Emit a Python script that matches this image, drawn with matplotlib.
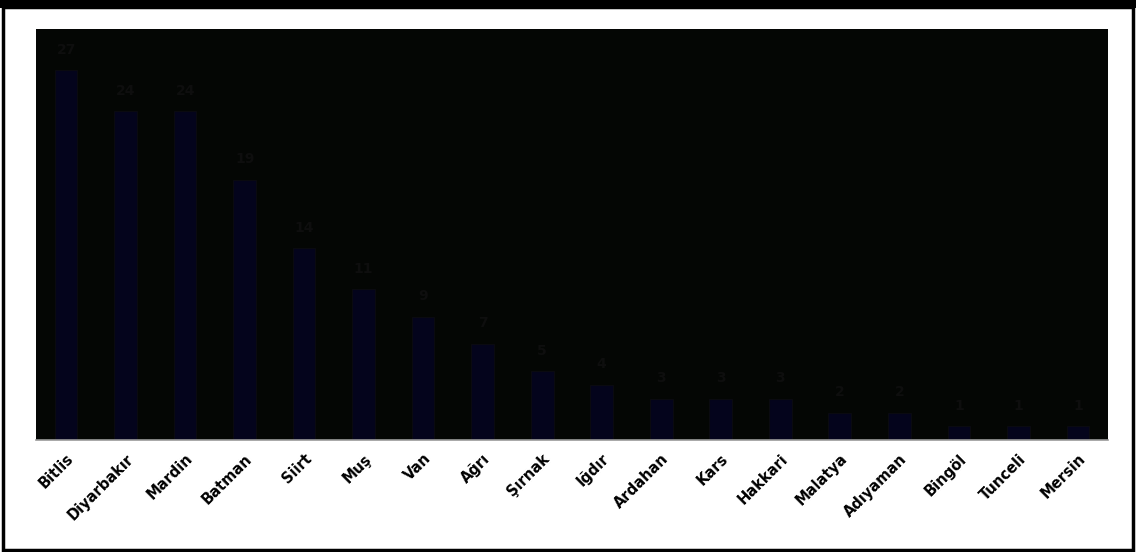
import matplotlib.pyplot as plt
from matplotlib.patches import Rectangle
import numpy as np

provinces = ['Bitlis', 'Diyarbakır', 'Mardin', 'Batman', 'Siirt', 'Muş', 'Van', 'Ağrı',
             'Şırnak', 'Iğdır', 'Ardahan', 'Kars', 'Hakkari', 'Malatya', 'Adıyaman',
             'Bingöl', 'Tunceli', 'Mersin']
counts = [27, 24, 24, 19, 14, 11, 9, 7, 5, 4, 3, 3, 3, 2, 2, 1, 1, 1]

fig = plt.figure(figsize=(11.36, 5.52), dpi=100)
ax = fig.add_axes([0.032, 0.203, 0.943, 0.744])
ax.set_facecolor('#040604')

x = np.arange(len(provinces))
bars = ax.bar(x, counts, width=0.38, color='#04041c', edgecolor='#0a0a10', linewidth=0.8)
for xi, c in zip(x, counts):
    ax.text(xi, c + 1.0, str(c), ha='center', va='bottom', fontsize=10,
            fontweight='bold', color='#0e0e0e')

ax.set_xlim(-0.5, len(provinces) - 0.5)
ax.set_ylim(0, 30)
ax.set_yticks([])
ax.set_xticks(x)
ax.set_xticklabels(provinces, rotation=45, ha='right', rotation_mode='anchor',
                   fontsize=10.5, fontweight='bold', color='black')
ax.tick_params(axis='x', length=0, pad=8)
for s in ['top', 'left', 'right']:
    ax.spines[s].set_visible(False)
ax.spines['bottom'].set_color('#9a9a9a')
ax.spines['bottom'].set_linewidth(1.2)

# outer frame
fig.patches.append(Rectangle((0.003, 0.003), 0.994, 0.985, transform=fig.transFigure,
                             fill=False, edgecolor='black', linewidth=2.5))
fig.patches.append(Rectangle((0, 0.985), 1, 0.015, transform=fig.transFigure,
                             facecolor='black', edgecolor='none'))

fig.savefig('out.png', dpi=100, facecolor='white')
